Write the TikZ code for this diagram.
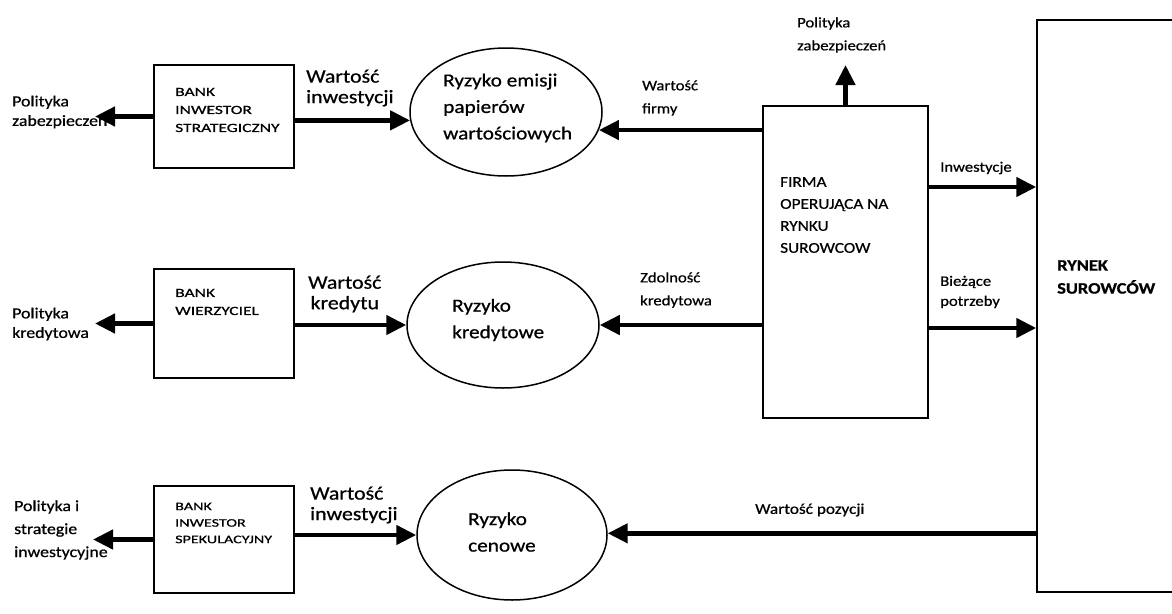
\documentclass[tikz,border=0pt]{standalone}
\usepackage{fontspec}
\setmainfont[FakeStretch=1.15,FakeBold=0.7]{Carlito}
\newfontfamily\boxfont[FakeStretch=1.4,FakeBold=0.7]{Carlito}
\usetikzlibrary{shapes.geometric,arrows.meta}
\begin{document}
\begin{tikzpicture}[x=1pt,y=-1pt,
  box/.style={draw, line width=1.5pt, minimum width=140pt, inner sep=0pt},
  ell/.style={draw, ellipse, line width=1.5pt, inner sep=0pt},
  arr/.style={line width=4.5pt, -{Triangle[length=20pt,width=19pt]}},
  txt/.style={anchor=west, align=left, inner sep=0pt},
  lab/.style={txt, font=\fontsize{15.5}{19.5}\selectfont},
  vlab/.style={txt, font=\fontsize{19}{20.5}\selectfont},
  slab/.style={txt, font=\fontsize{14.5}{23}\selectfont},
  btxt/.style={txt, font=\boxfont\fontsize{12.5}{18}\selectfont},
  etxt/.style={txt, font=\fontsize{18.5}{26.5}\selectfont}]
\clip (0,0) rectangle (1172,613);
% boxes
\node[box, minimum height=103pt] (b1) at (224,116.5) {};
\node[box, minimum height=109pt] (b2) at (224,323.5) {};
\node[box, minimum height=107pt] (b3) at (224,539.5) {};
\node[btxt] (tb1) at (175,110) {BANK\\INWESTOR\\STRATEGICZNY};
\node[btxt] (tb2) at (175,302) {BANK\\WIERZYCIEL};
\node[txt, font=\boxfont\fontsize{11.5}{16.5}\selectfont] (tb3) at (175,523) {BANK\\INWESTOR\\SPEKULACYJNY};
% ellipses
\node[ell, minimum width=192pt, minimum height=128pt] (e1) at (506,112) {};
\node[ell, minimum width=192pt, minimum height=126pt] (e2) at (503,325) {};
\node[ell, minimum width=190pt, minimum height=130pt] (e3) at (512,535) {};
\node[etxt] (te1) at (443,108) {Ryzyko emisji\\papierów\\wartościowych};
\node[etxt] (te2) at (452,320) {Ryzyko\\kredytowe};
\node[etxt] (te3) at (468,532) {Ryzyko\\cenowe};
% firm and market
\node[draw, line width=1.5pt, minimum width=165pt, minimum height=312pt, inner sep=0pt] (firma) at (845.5,262) {};
\node[txt, font=\fontsize{15}{22}\selectfont] (tf) at (780,215) {FIRMA\\OPERUJĄCA NA\\RYNKU\\SUROWCOW};
\node[draw, line width=1.5pt, minimum width=300pt, minimum height=572pt, inner sep=0pt] (rynek) at (1187,306) {};
\node[txt, font=\bfseries\fontsize{16}{23}\selectfont] (tr) at (1057,277) {RYNEK\\SUROWCÓW};
% left outputs
\coordinate (o1) at (95,112);
\coordinate (o2) at (95,323);
\coordinate (o3) at (93,538);
\draw[arr] (b1.west) -- (b1.west -| o1);
\draw[arr] (b2.west) -- (b2.west -| o2);
\draw[arr] (b3.west) -- (b3.west -| o3);
\node[lab] (lp1) at (12,112) {Polityka\\zabezpieczeń};
\node[lab] (lp2) at (12,324) {Polityka\\kredytowa};
\node[txt, font=\fontsize{15.5}{23}\selectfont] (lp3) at (14,530) {Polityka i\\strategie\\inwestycyjne};
% bank -> risk
\draw[arr] (b1.east |- e1.185) -- (e1.185);
\draw[arr] (b2.east |- e2.180) -- (e2.180);
\draw[arr] (b3.east |- e3.180) -- (e3.180);
\node[vlab] (lv1) at (306,88) {Wartość\\inwestycji};
\node[vlab, align=center] (lv2) at (308,294) {Wartość\\kredytu};
\node[vlab] (lv3) at (310,505) {Wartość\\inwestycji};
% firm -> risk
\draw[arr] (firma.west |- e1.-11) -- (e1.-11);
\draw[arr] (firma.west |- e2.0) -- (e2.0);
\node[slab] (lf1) at (642,98) {Wartość\\firmy};
\node[slab] (lf2) at (640,290) {Zdolność\\kredytowa};
% firm up
\coordinate (up) at (845.5,65);
\draw[arr] (firma.north) -- (up);
\node[slab] (lt) at (797,35) {Polityka\\zabezpieczeń};
% firm -> market
\draw[arr] ([yshift=75pt]firma.east) -- ([yshift=75pt]firma.east -| rynek.west);
\draw[arr] ([yshift=-66pt]firma.east) -- ([yshift=-66pt]firma.east -| rynek.west);
\node[slab] (li) at (940,168) {Inwestycje};
\node[txt, font=\fontsize{14.5}{20}\selectfont] (lb) at (940,292) {Bieżące\\potrzeby};
% market -> price risk
\draw[arr] (rynek.west |- e3.1) -- (e3.1);
\node[txt, font=\fontsize{15}{20}\selectfont] (lw) at (755,510) {Wartość pozycji};
\end{tikzpicture}
\end{document}
